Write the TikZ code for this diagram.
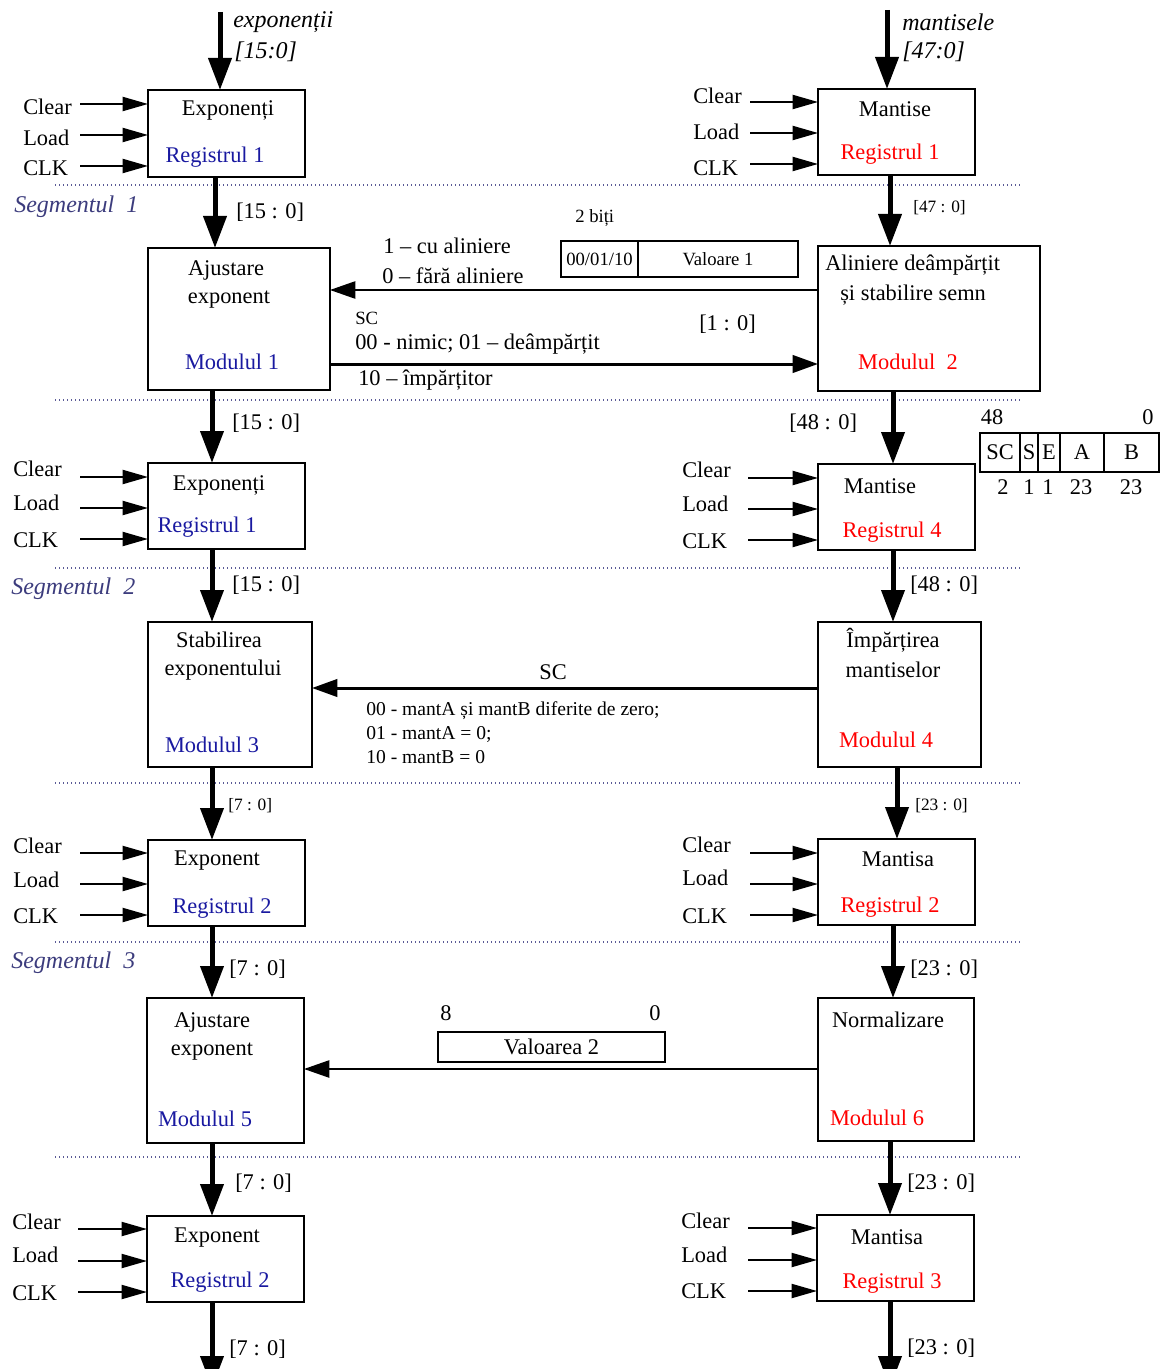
\documentclass[tikz,border=0pt]{standalone}
\usepackage{fontspec}
\setmainfont{Liberation Serif}
\usetikzlibrary{arrows.meta}
\definecolor{regblue}{RGB}{25,25,160}
\definecolor{segcol}{RGB}{60,60,125}
\definecolor{dotcol}{RGB}{90,90,150}
\newcommand\mfs{\fontsize{16.8}{19}\selectfont}
\newcommand\ifs{\fontsize{18}{20}\selectfont\itshape}
\newcommand\sfs{\fontsize{14}{16}\selectfont}
\newcommand\xfs{\fontsize{13}{15}\selectfont}
\tikzset{
 box/.style={draw, line width=1.5pt, inner sep=0, outer sep=0},
 vbox/.style={draw, line width=0.9pt, inner sep=0, outer sep=0},
 txt/.style={font=\mfs, inner sep=0},
 stxt/.style={font=\sfs, inner sep=0},
 xtxt/.style={font=\xfs, inner sep=0},
 lt/.style={anchor=west},
 big/.style={line width=3.75pt, -{Triangle[length=24pt,width=17pt]}},
 sig/.style={line width=1.5pt, -{Triangle[length=19pt,width=10.5pt]}},
 thinarr/.style={line width=1.1pt, -{Triangle[length=19pt,width=13pt]}},
 medarr/.style={line width=2.25pt, -{Triangle[length=19pt,width=13pt]}},
 sepline/.style={dotted, dotcol, line width=1pt},
 seg/.style={font=\ifs, text=segcol, inner sep=0, anchor=west},
}
\newcommand\ctrls[5]{%
 \foreach \ay/\ty/\lab/\k in {#5}{%
  \node[txt,anchor=west] (#2-\k) at (#4,\ty) {\lab};
  \coordinate (#2-\k-s) at (#3,\ay);
  \draw[sig] (#2-\k-s) -- (#2-\k-s -| #1.west);
 }}
\begin{document}
\begin{tikzpicture}[x=0.75pt,y=-0.75pt]
\useasboundingbox (0,0) rectangle (1164,1369);

% separators
\foreach \yy in {185,400,568,783,942,1157}{\draw[sepline] (55,\yy) -- (1020,\yy);}
\node[seg] (s1) at (14,207) {Segmentul\ \ 1};
\node[seg] (s2) at (11,589) {Segmentul\ \ 2};
\node[seg] (s3) at (11,963) {Segmentul\ \ 3};

% left boxes
\node[box,minimum width=117.75pt,minimum height=65.25pt] (L1) at (226.5,133.5) {};
\node[box,minimum width=136.5pt,minimum height=106.5pt] (L2) at (239,319) {};
\node[box,minimum width=117.75pt,minimum height=64.5pt] (L3) at (226.5,506) {};
\node[box,minimum width=123pt,minimum height=108.75pt] (L4) at (230,694.5) {};
\node[box,minimum width=117.75pt,minimum height=64.5pt] (L5) at (226.5,883) {};
\node[box,minimum width=117.75pt,minimum height=108.75pt] (L6) at (225.5,1070.5) {};
\node[box,minimum width=117.75pt,minimum height=64.5pt] (L7) at (225.5,1259) {};
% right boxes
\node[box,minimum width=117.75pt,minimum height=64.5pt] (R1) at (896.5,132) {};
\node[box,minimum width=166.5pt,minimum height=108.75pt] (R2) at (929,318.5) {};
\node[box,minimum width=117.75pt,minimum height=64.5pt] (R3) at (896.5,507) {};
\node[box,minimum width=122.25pt,minimum height=108.75pt] (R4) at (899.5,694.5) {};
\node[box,minimum width=117.75pt,minimum height=64.5pt] (R5) at (896.5,882) {};
\node[box,minimum width=117pt,minimum height=107.25pt] (R6) at (896,1069.5) {};
\node[box,minimum width=117.75pt,minimum height=64.5pt] (R7) at (895.5,1258) {};

% box texts left
\node[txt] (L1a) at (228,110) {Exponenți};
\node[txt,text=regblue] (L1b) at (215,157) {Registrul 1};
\node[txt] (L2a) at (226,270) {Ajustare};
\node[txt] (L2b) at (229,300) {exponent};
\node[txt,text=regblue] (L2c) at (232,362) {Modulul 1};
\node[txt] (L3a) at (219,485) {Exponenți};
\node[txt,text=regblue] (L3b) at (207,527) {Registrul 1};
\node[txt] (L4a) at (219,640) {Stabilirea};
\node[txt] (L4b) at (223,670) {exponentului};
\node[txt,text=regblue] (L4c) at (212,745) {Modulul 3};
\node[txt] (L5a) at (217,861) {Exponent};
\node[txt,text=regblue] (L5b) at (222,908) {Registrul 2};
\node[txt] (L6a) at (212,1022) {Ajustare};
\node[txt] (L6b) at (212,1052) {exponent};
\node[txt,text=regblue] (L6c) at (205,1119) {Modulul 5};
\node[txt] (L7a) at (217,1238) {Exponent};
\node[txt,text=regblue] (L7b) at (220,1282) {Registrul 2};
% box texts right
\node[txt] (R1a) at (895,109) {Mantise};
\node[txt,text=red] (R1b) at (890,154) {Registrul 1};
\node[txt,lt] (R2a) at (825,265) {Aliniere deâmpărțit};
\node[txt,lt] (R2b) at (840,295) {și stabilire semn};
\node[txt,text=red] (R2c) at (908,362) {Modulul\ \ 2};
\node[txt] (R3a) at (880,486) {Mantise};
\node[txt,text=red] (R3b) at (892,532) {Registrul 4};
\node[txt] (R4a) at (893,640) {Împărțirea};
\node[txt] (R4b) at (893,670) {mantiselor};
\node[txt,text=red] (R4c) at (886,740) {Modulul 4};
\node[txt] (R5a) at (898,859) {Mantisa};
\node[txt,text=red] (R5b) at (890,907) {Registrul 2};
\node[txt] (R6a) at (888,1020) {Normalizare};
\node[txt,text=red] (R6b) at (877,1118) {Modulul 6};
\node[txt] (R7a) at (887,1237) {Mantisa};
\node[txt,text=red] (R7b) at (892,1283) {Registrul 3};

% control inputs
\ctrls{L1}{a}{80}{23}{104/107/Clear/1,135/138/Load/2,166/168/CLK/3}
\ctrls{L3}{b}{80}{13}{477/469/Clear/1,508/503/Load/2,539/540/CLK/3}
\ctrls{L5}{c}{80}{13}{853/846/Clear/1,884/880/Load/2,915/916/CLK/3}
\ctrls{L7}{d}{78}{12}{1229/1222/Clear/1,1261/1255/Load/2,1292/1293/CLK/3}
\ctrls{R1}{e}{750}{693}{102/96/Clear/1,133/132/Load/2,164/168/CLK/3}
\ctrls{R3}{f}{748}{682}{478/470/Clear/1,509/504/Load/2,540/541/CLK/3}
\ctrls{R5}{g}{750}{682}{853/845/Clear/1,884/878/Load/2,915/916/CLK/3}
\ctrls{R7}{h}{748}{681}{1228/1221/Clear/1,1260/1255/Load/2,1291/1291/CLK/3}

% inputs
\coordinate (inL) at (220,12);
\draw[big] (inL) -- (inL |- L1.north);
\node[txt,lt,font=\ifs] (inLa) at (233,22) {exponenții};
\node[txt,lt,font=\ifs] (inLb) at (234,52) {[15:0]};
\coordinate (inR) at (887,10);
\draw[big] (inR) -- (inR |- R1.north);
\node[txt,lt,font=\ifs] (inRa) at (902,22) {mantisele};
\node[txt,lt,font=\ifs] (inRb) at (902,52) {[47:0]};

% vertical chain left
\coordinate (vl1) at (215,0);
\coordinate (vl2) at (212,0);
\coordinate (outL) at (212,1388);
\draw[big] (L1.south -| vl1) -- (L2.north -| vl1);
\draw[big] (L2.south -| vl2) -- (L3.north -| vl2);
\draw[big] (L3.south -| vl2) -- (L4.north -| vl2);
\draw[big] (L4.south -| vl2) -- (L5.north -| vl2);
\draw[big] (L5.south -| vl2) -- (L6.north -| vl2);
\draw[big] (L6.south -| vl2) -- (L7.north -| vl2);
\draw[big] (L7.south -| outL) -- (outL);
% vertical chain right
\coordinate (vr1) at (890,0);
\coordinate (vr2) at (893,0);
\coordinate (vr3) at (897,0);
\coordinate (outR) at (890,1388);
\draw[big] (R1.south -| vr1) -- (R2.north -| vr1);
\draw[big] (R2.south -| vr2) -- (R3.north -| vr2);
\draw[big] (R3.south -| vr2) -- (R4.north -| vr2);
\draw[big] (R4.south -| vr3) -- (R5.north -| vr3);
\draw[big] (R5.south -| vr2) -- (R6.north -| vr2);
\draw[big] (R6.south -| vr1) -- (R7.north -| vr1);
\draw[big] (R7.south -| outR) -- (outR);

% bus labels
\node[txt,lt] (b1) at (236,212) {[15 : 0]};
\node[xtxt,lt] (b2) at (913,208) {[47 : 0]};
\node[txt,lt] (b3) at (232,423) {[15 : 0]};
\node[txt,lt] (b4) at (789,423) {[48 : 0]};
\node[txt,lt] (b5) at (232,585) {[15 : 0]};
\node[txt,lt] (b6) at (910,585) {[48 : 0]};
\node[xtxt,lt] (b7) at (228,806) {[7 : 0]};
\node[xtxt,lt] (b8) at (915,806) {[23 : 0]};
\node[txt,lt] (b9) at (229,969) {[7 : 0]};
\node[txt,lt] (b10) at (910,969) {[23 : 0]};
\node[txt,lt] (b11) at (235,1183) {[7 : 0]};
\node[txt,lt] (b12) at (907,1183) {[23 : 0]};
\node[txt,lt] (b13) at (229,1349) {[7 : 0]};
\node[txt,lt] (b14) at (907,1348) {[23 : 0]};

% horizontal links, segment 1
\coordinate (h1) at (0,290);
\draw[thinarr] (R2.west |- h1) -- (L2.east |- h1);
\coordinate (h2) at (0,364);
\draw[medarr] (L2.east |- h2) -- (R2.west |- h2);
\node[txt,lt] (t1) at (383,246) {1 – cu aliniere};
\node[txt,lt] (t2) at (382,276) {0 – fără aliniere};
\node[stxt,lt] (t3) at (355,318) {SC};
\node[txt,lt] (t4) at (355,344) {00 - nimic; 01 – deâmpărțit};
\node[txt,lt] (t5) at (358,380) {10 – împărțitor};
\node[txt,lt] (t6) at (699,324) {[1 : 0]};
\node[stxt,lt] (t7) at (575,218) {2 biți};
\node[vbox,minimum width=57.75pt,minimum height=27pt,font=\sfs] (v1a) at (599.5,259) {00/01/10};
\node[vbox,minimum width=120pt,minimum height=27pt,font=\sfs] (v1b) at (718,259) {Valoare 1};

% SC S E A B format
\node[txt] (f48) at (992,417) {48};
\node[txt] (f0) at (1148,417) {0};
\node[vbox,minimum width=30pt,minimum height=29.25pt,font=\mfs] (fsc) at (1000,452.5) {SC};
\node[vbox,minimum width=13.5pt,minimum height=29.25pt,font=\mfs] (fs) at (1029,452.5) {S};
\node[vbox,minimum width=16.5pt,minimum height=29.25pt,font=\mfs] (fe) at (1049,452.5) {E};
\node[vbox,minimum width=33pt,minimum height=29.25pt,font=\mfs] (fa) at (1082,452.5) {A};
\node[vbox,minimum width=41.25pt,minimum height=29.25pt,font=\mfs] (fb) at (1131.5,452.5) {B};
\node[txt] (n1) at (1003,487) {2};
\node[txt] (n2) at (1029,487) {1};
\node[txt] (n3) at (1048,487) {1};
\node[txt] (n4) at (1081,487) {23};
\node[txt] (n5) at (1131,487) {23};

% segment 2 link
\coordinate (h3) at (0,688);
\draw[medarr] (R4.west |- h3) -- (L4.east |- h3);
\node[txt] (u1) at (553,672) {SC};
\node[font=\fontsize{14.7}{16}\selectfont,inner sep=0,lt] (u2) at (366,711) {00 - mantA și mantB diferite de zero;};
\node[font=\fontsize{14.7}{16}\selectfont,inner sep=0,lt] (u3) at (366,734) {01 - mantA = 0;};
\node[font=\fontsize{14.7}{16}\selectfont,inner sep=0,lt] (u4) at (366,757) {10 - mantB = 0};

% segment 3 link
\coordinate (h4) at (0,1069);
\draw[thinarr] (R6.west |- h4) -- (L6.east |- h4);
\node[txt,lt] (w1) at (440,1013) {8};
\node[txt] (w2) at (655,1013) {0};
\node[vbox,minimum width=170.25pt,minimum height=22.5pt,font=\mfs] (v2) at (551.5,1047) {Valoarea 2};
\end{tikzpicture}
\end{document}
